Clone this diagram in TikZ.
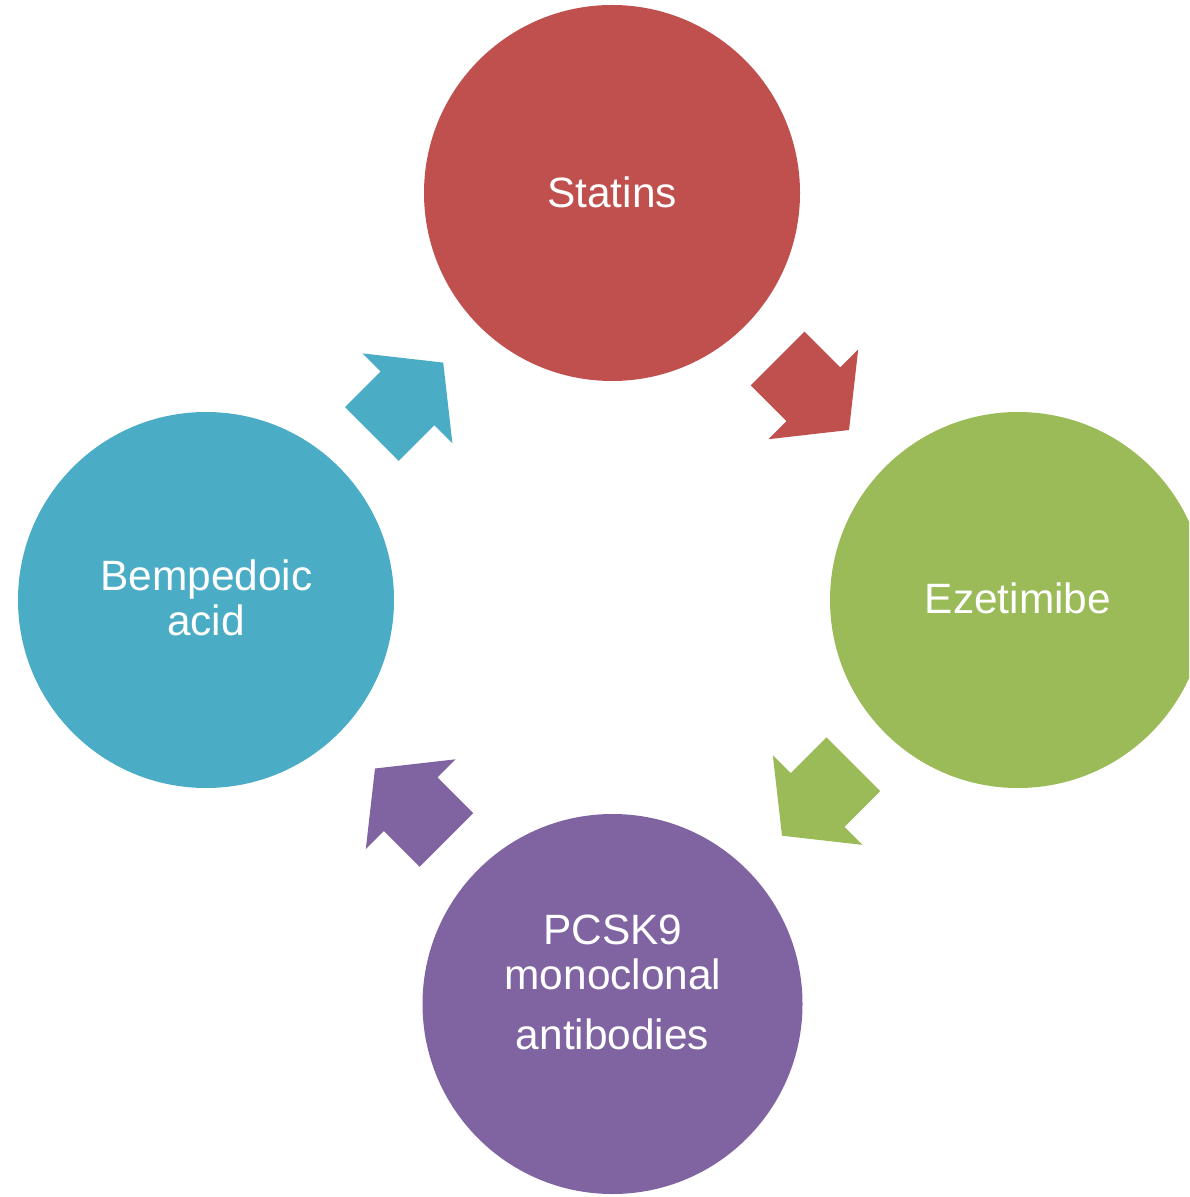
\documentclass[tikz,border=0pt]{standalone}
\usepackage{fontspec}
\setmainfont{Liberation Sans}
\definecolor{cRed}{HTML}{C0504D}
\definecolor{cGreen}{HTML}{9BBB59}
\definecolor{cPurple}{HTML}{8064A2}
\definecolor{cBlue}{HTML}{4BACC6}
\tikzset{
  bubble/.style={circle, minimum size=188pt, inner sep=0pt, draw=none},
  lbl/.style={anchor=base, text=white, inner sep=0pt,
    font=\fontsize{21.2pt}{25pt}\selectfont}
}
% block arrow pointing along +x, centred on the base of its head
\newcommand{\blockarrowpath}{%
  (-50.5,38) -- (0,38) -- (0,63.5) -- (50.5,0) -- (0,-63.5)
  -- (0,-38) -- (-50.5,-38) -- cycle}
\begin{document}
\begin{tikzpicture}[x=0.5pt, y=-0.5pt]
  \useasboundingbox (0,0) rectangle (1189,1197);
  \clip (0,0) rectangle (1189,1197);

  % the four drug classes
  \node[bubble, fill=cRed]    (statins)   at (612,193)  {};
  \node[bubble, fill=cGreen]  (ezetimibe) at (1018,600) {};
  \node[bubble, fill=cPurple, minimum size=190pt] (pcsk9) at (612.5,1004) {};
  \node[bubble, fill=cBlue]   (bempedoic) at (206,600)  {};

  % labels
  \node[lbl] (tStatins) at (612,208)    {Statins};
  \node[lbl] (tEzet)    at (1018,613.5) {Ezetimibe};
  \node[lbl] (tBemA)    at (206.5,590.5){Bempedoic};
  \node[lbl] (tBemB)    at (206,635.5)  {acid};
  \node[lbl] (tPcA)     at (613,944.5)  {PCSK9};
  \node[lbl] (tPcB)     at (613,989)    {monoclonal};
  \node[lbl] (tPcC)     at (612.5,1049.5){antibodies};

  % cycle arrows between the circles
  \begin{scope}[shift={(813.3,394.3)}, rotate=-45]
    \fill[cRed] \blockarrowpath;
  \end{scope}
  \begin{scope}[shift={(817.7,800)}, rotate=-135]
    \fill[cGreen] \blockarrowpath;
  \end{scope}
  \begin{scope}[shift={(410.7,804.2)}, rotate=135]
    \fill[cPurple] \blockarrowpath;
  \end{scope}
  \begin{scope}[shift={(407.5,398.3)}, rotate=45]
    \fill[cBlue] \blockarrowpath;
  \end{scope}
\end{tikzpicture}
\end{document}
